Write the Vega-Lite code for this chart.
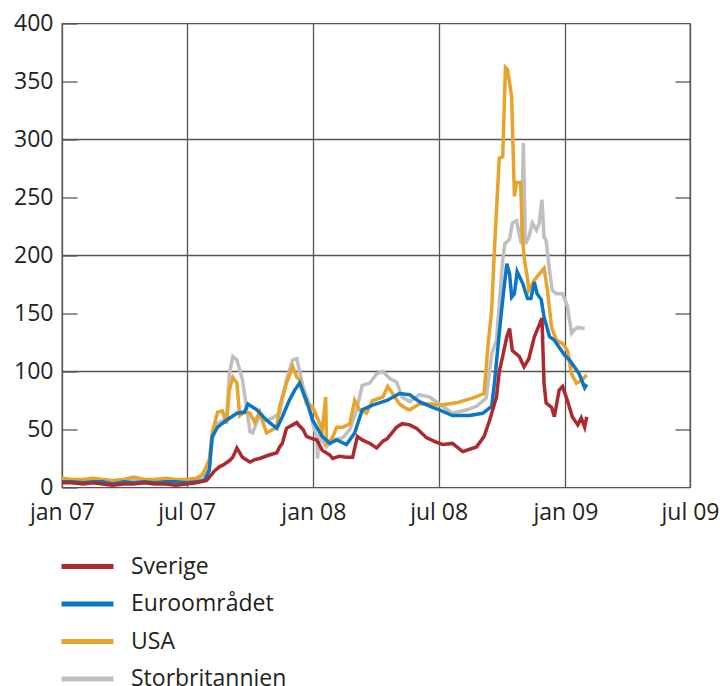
{
  "$schema": "https://vega.github.io/schema/vega-lite/v6.json",
  "width": 628,
  "height": 464,
  "autosize": {"type": "none"},
  "padding": {"left": 62, "top": 23.5, "right": 33, "bottom": 198.5},
  "background": "white",
  "config": {
    "view": {"stroke": "#555555", "strokeWidth": 1.3},
    "font": "Open Sans",
    "axis": {"labelFont": "Open Sans", "labelFontSize": 23, "labelColor": "#231f20", "title": null},
    "legend": {"labelFont": "Open Sans", "labelFontSize": 23, "labelColor": "#231f20"}
  },
  "resolve": {"axis": {"y": "independent"}},
  "layer": [
    {
      "data": {"values": [{"gy": 100}, {"gy": 200}, {"gy": 300}]},
      "mark": {"type": "rule", "color": "#555555", "strokeWidth": 1.3},
      "encoding": {
        "y": {
          "field": "gy", "type": "quantitative",
          "scale": {"domain": [0, 400], "nice": false},
          "axis": {"orient": "right", "values": [50, 150, 250, 350], "labels": false, "domain": false, "grid": false, "ticks": true, "tickSize": -15, "tickColor": "#555555", "tickWidth": 1.3, "title": null}
        }
      }
    },
    {
      "data": {"values": [
        {"d":"2007/01/01","s":"Storbritannien","v":6},{"d":"2007/01/15","s":"Storbritannien","v":6},{"d":"2007/02/01","s":"Storbritannien","v":5},{"d":"2007/02/15","s":"Storbritannien","v":6},{"d":"2007/03/01","s":"Storbritannien","v":6},{"d":"2007/03/15","s":"Storbritannien","v":5},{"d":"2007/04/01","s":"Storbritannien","v":6},{"d":"2007/04/15","s":"Storbritannien","v":6},{"d":"2007/05/01","s":"Storbritannien","v":5},{"d":"2007/05/15","s":"Storbritannien","v":6},{"d":"2007/06/01","s":"Storbritannien","v":6},{"d":"2007/06/15","s":"Storbritannien","v":5},{"d":"2007/07/01","s":"Storbritannien","v":6},{"d":"2007/07/15","s":"Storbritannien","v":6},{"d":"2007/07/27","s":"Storbritannien","v":8},{"d":"2007/08/03","s":"Storbritannien","v":20},{"d":"2007/08/07","s":"Storbritannien","v":40},{"d":"2007/08/15","s":"Storbritannien","v":55},{"d":"2007/08/28","s":"Storbritannien","v":60},{"d":"2007/09/01","s":"Storbritannien","v":98},{"d":"2007/09/06","s":"Storbritannien","v":113},{"d":"2007/09/12","s":"Storbritannien","v":110},{"d":"2007/09/20","s":"Storbritannien","v":93},{"d":"2007/09/28","s":"Storbritannien","v":61},{"d":"2007/10/01","s":"Storbritannien","v":48},{"d":"2007/10/05","s":"Storbritannien","v":47},{"d":"2007/10/08","s":"Storbritannien","v":52},{"d":"2007/10/15","s":"Storbritannien","v":62},{"d":"2007/10/25","s":"Storbritannien","v":58},{"d":"2007/11/03","s":"Storbritannien","v":60},{"d":"2007/11/13","s":"Storbritannien","v":64},{"d":"2007/11/23","s":"Storbritannien","v":93},{"d":"2007/12/02","s":"Storbritannien","v":110},{"d":"2007/12/08","s":"Storbritannien","v":111},{"d":"2007/12/17","s":"Storbritannien","v":87},{"d":"2007/12/27","s":"Storbritannien","v":70},{"d":"2007/12/31","s":"Storbritannien","v":55},{"d":"2008/01/06","s":"Storbritannien","v":44},{"d":"2008/01/07","s":"Storbritannien","v":25},{"d":"2008/01/10","s":"Storbritannien","v":44},{"d":"2008/01/20","s":"Storbritannien","v":35},{"d":"2008/01/29","s":"Storbritannien","v":41},{"d":"2008/02/13","s":"Storbritannien","v":43},{"d":"2008/02/23","s":"Storbritannien","v":50},{"d":"2008/03/04","s":"Storbritannien","v":67},{"d":"2008/03/12","s":"Storbritannien","v":88},{"d":"2008/03/23","s":"Storbritannien","v":90},{"d":"2008/04/02","s":"Storbritannien","v":98},{"d":"2008/04/11","s":"Storbritannien","v":100},{"d":"2008/04/21","s":"Storbritannien","v":94},{"d":"2008/05/01","s":"Storbritannien","v":91},{"d":"2008/05/09","s":"Storbritannien","v":78},{"d":"2008/05/20","s":"Storbritannien","v":74},{"d":"2008/06/03","s":"Storbritannien","v":80},{"d":"2008/06/18","s":"Storbritannien","v":78},{"d":"2008/07/02","s":"Storbritannien","v":72},{"d":"2008/07/21","s":"Storbritannien","v":64},{"d":"2008/08/11","s":"Storbritannien","v":67},{"d":"2008/08/25","s":"Storbritannien","v":70},{"d":"2008/09/08","s":"Storbritannien","v":77},{"d":"2008/09/16","s":"Storbritannien","v":115},{"d":"2008/09/23","s":"Storbritannien","v":127},{"d":"2008/10/02","s":"Storbritannien","v":196},{"d":"2008/10/05","s":"Storbritannien","v":210},{"d":"2008/10/12","s":"Storbritannien","v":214},{"d":"2008/10/16","s":"Storbritannien","v":228},{"d":"2008/10/22","s":"Storbritannien","v":230},{"d":"2008/10/29","s":"Storbritannien","v":210},{"d":"2008/11/01","s":"Storbritannien","v":297},{"d":"2008/11/04","s":"Storbritannien","v":210},{"d":"2008/11/09","s":"Storbritannien","v":216},{"d":"2008/11/14","s":"Storbritannien","v":228},{"d":"2008/11/20","s":"Storbritannien","v":222},{"d":"2008/11/24","s":"Storbritannien","v":228},{"d":"2008/11/28","s":"Storbritannien","v":248},{"d":"2008/12/01","s":"Storbritannien","v":216},{"d":"2008/12/04","s":"Storbritannien","v":213},{"d":"2008/12/09","s":"Storbritannien","v":187},{"d":"2008/12/13","s":"Storbritannien","v":170},{"d":"2008/12/19","s":"Storbritannien","v":167},{"d":"2008/12/28","s":"Storbritannien","v":167},{"d":"2009/01/04","s":"Storbritannien","v":156},{"d":"2009/01/10","s":"Storbritannien","v":133},{"d":"2009/01/14","s":"Storbritannien","v":136},{"d":"2009/01/19","s":"Storbritannien","v":138},{"d":"2009/01/29","s":"Storbritannien","v":137},

        {"d":"2007/01/01","s":"USA","v":8},{"d":"2007/01/15","s":"USA","v":7},{"d":"2007/02/01","s":"USA","v":7},{"d":"2007/02/15","s":"USA","v":8},{"d":"2007/03/01","s":"USA","v":7},{"d":"2007/03/15","s":"USA","v":6},{"d":"2007/04/01","s":"USA","v":7},{"d":"2007/04/15","s":"USA","v":9},{"d":"2007/05/01","s":"USA","v":7},{"d":"2007/05/15","s":"USA","v":7},{"d":"2007/06/01","s":"USA","v":8},{"d":"2007/06/15","s":"USA","v":7},{"d":"2007/07/01","s":"USA","v":7},{"d":"2007/07/15","s":"USA","v":8},{"d":"2007/07/24","s":"USA","v":11},{"d":"2007/08/03","s":"USA","v":24},{"d":"2007/08/07","s":"USA","v":47},{"d":"2007/08/15","s":"USA","v":65},{"d":"2007/08/22","s":"USA","v":66},{"d":"2007/08/28","s":"USA","v":55},{"d":"2007/09/01","s":"USA","v":84},{"d":"2007/09/06","s":"USA","v":95},{"d":"2007/09/12","s":"USA","v":90},{"d":"2007/09/16","s":"USA","v":62},{"d":"2007/09/23","s":"USA","v":65},{"d":"2007/10/01","s":"USA","v":64},{"d":"2007/10/08","s":"USA","v":56},{"d":"2007/10/15","s":"USA","v":65},{"d":"2007/10/25","s":"USA","v":47},{"d":"2007/11/09","s":"USA","v":52},{"d":"2007/11/13","s":"USA","v":70},{"d":"2007/11/23","s":"USA","v":90},{"d":"2007/12/02","s":"USA","v":104},{"d":"2007/12/08","s":"USA","v":95},{"d":"2007/12/12","s":"USA","v":93},{"d":"2007/12/22","s":"USA","v":72},{"d":"2007/12/31","s":"USA","v":70},{"d":"2008/01/06","s":"USA","v":61},{"d":"2008/01/14","s":"USA","v":50},{"d":"2008/01/19","s":"USA","v":78},{"d":"2008/01/20","s":"USA","v":38},{"d":"2008/01/28","s":"USA","v":42},{"d":"2008/02/04","s":"USA","v":52},{"d":"2008/02/13","s":"USA","v":52},{"d":"2008/02/23","s":"USA","v":55},{"d":"2008/03/01","s":"USA","v":75},{"d":"2008/03/08","s":"USA","v":67},{"d":"2008/03/18","s":"USA","v":64},{"d":"2008/03/27","s":"USA","v":75},{"d":"2008/04/11","s":"USA","v":78},{"d":"2008/04/18","s":"USA","v":87},{"d":"2008/04/25","s":"USA","v":81},{"d":"2008/05/05","s":"USA","v":72},{"d":"2008/05/15","s":"USA","v":68},{"d":"2008/05/20","s":"USA","v":67},{"d":"2008/06/03","s":"USA","v":72},{"d":"2008/06/22","s":"USA","v":72},{"d":"2008/07/02","s":"USA","v":71},{"d":"2008/07/27","s":"USA","v":73},{"d":"2008/08/19","s":"USA","v":77},{"d":"2008/09/05","s":"USA","v":81},{"d":"2008/09/10","s":"USA","v":118},{"d":"2008/09/16","s":"USA","v":153},{"d":"2008/09/20","s":"USA","v":205},{"d":"2008/09/27","s":"USA","v":284},{"d":"2008/10/02","s":"USA","v":285},{"d":"2008/10/06","s":"USA","v":362},{"d":"2008/10/09","s":"USA","v":360},{"d":"2008/10/15","s":"USA","v":337},{"d":"2008/10/19","s":"USA","v":251},{"d":"2008/10/22","s":"USA","v":263},{"d":"2008/10/28","s":"USA","v":263},{"d":"2008/10/31","s":"USA","v":213},{"d":"2008/11/02","s":"USA","v":199},{"d":"2008/11/07","s":"USA","v":180},{"d":"2008/11/09","s":"USA","v":170},{"d":"2008/11/17","s":"USA","v":179},{"d":"2008/11/24","s":"USA","v":184},{"d":"2008/12/01","s":"USA","v":189},{"d":"2008/12/06","s":"USA","v":170},{"d":"2008/12/12","s":"USA","v":138},{"d":"2008/12/19","s":"USA","v":127},{"d":"2008/12/28","s":"USA","v":124},{"d":"2009/01/04","s":"USA","v":118},{"d":"2009/01/10","s":"USA","v":98},{"d":"2009/01/17","s":"USA","v":90},{"d":"2009/01/24","s":"USA","v":92},{"d":"2009/02/01","s":"USA","v":97},

        {"d":"2007/01/01","s":"Euroområdet","v":5},{"d":"2007/01/15","s":"Euroområdet","v":5},{"d":"2007/02/01","s":"Euroområdet","v":4},{"d":"2007/02/15","s":"Euroområdet","v":5},{"d":"2007/03/01","s":"Euroområdet","v":5},{"d":"2007/03/15","s":"Euroområdet","v":3},{"d":"2007/04/01","s":"Euroområdet","v":5},{"d":"2007/04/15","s":"Euroområdet","v":4},{"d":"2007/05/01","s":"Euroområdet","v":5},{"d":"2007/05/15","s":"Euroområdet","v":4},{"d":"2007/06/01","s":"Euroområdet","v":5},{"d":"2007/06/15","s":"Euroområdet","v":5},{"d":"2007/07/01","s":"Euroområdet","v":4},{"d":"2007/07/15","s":"Euroområdet","v":5},{"d":"2007/07/27","s":"Euroområdet","v":6},{"d":"2007/08/03","s":"Euroområdet","v":15},{"d":"2007/08/07","s":"Euroområdet","v":44},{"d":"2007/08/15","s":"Euroområdet","v":52},{"d":"2007/08/28","s":"Euroområdet","v":58},{"d":"2007/09/12","s":"Euroområdet","v":64},{"d":"2007/09/23","s":"Euroområdet","v":65},{"d":"2007/09/28","s":"Euroområdet","v":72},{"d":"2007/10/11","s":"Euroområdet","v":67},{"d":"2007/10/25","s":"Euroområdet","v":58},{"d":"2007/11/09","s":"Euroområdet","v":51},{"d":"2007/11/17","s":"Euroområdet","v":61},{"d":"2007/11/27","s":"Euroområdet","v":75},{"d":"2007/12/05","s":"Euroområdet","v":84},{"d":"2007/12/12","s":"Euroområdet","v":90},{"d":"2007/12/22","s":"Euroområdet","v":75},{"d":"2007/12/31","s":"Euroområdet","v":58},{"d":"2008/01/14","s":"Euroområdet","v":44},{"d":"2008/01/25","s":"Euroområdet","v":38},{"d":"2008/02/04","s":"Euroområdet","v":41},{"d":"2008/02/18","s":"Euroområdet","v":37},{"d":"2008/03/01","s":"Euroområdet","v":47},{"d":"2008/03/12","s":"Euroområdet","v":67},{"d":"2008/03/27","s":"Euroområdet","v":71},{"d":"2008/04/17","s":"Euroområdet","v":75},{"d":"2008/05/05","s":"Euroområdet","v":81},{"d":"2008/05/20","s":"Euroområdet","v":80},{"d":"2008/06/03","s":"Euroområdet","v":74},{"d":"2008/06/22","s":"Euroområdet","v":69},{"d":"2008/07/02","s":"Euroområdet","v":67},{"d":"2008/07/21","s":"Euroområdet","v":62},{"d":"2008/08/15","s":"Euroområdet","v":62},{"d":"2008/09/03","s":"Euroområdet","v":64},{"d":"2008/09/16","s":"Euroområdet","v":70},{"d":"2008/09/20","s":"Euroområdet","v":90},{"d":"2008/09/27","s":"Euroområdet","v":133},{"d":"2008/10/02","s":"Euroområdet","v":162},{"d":"2008/10/08","s":"Euroområdet","v":193},{"d":"2008/10/12","s":"Euroområdet","v":184},{"d":"2008/10/15","s":"Euroområdet","v":164},{"d":"2008/10/19","s":"Euroområdet","v":167},{"d":"2008/10/23","s":"Euroområdet","v":186},{"d":"2008/10/31","s":"Euroområdet","v":176},{"d":"2008/11/07","s":"Euroområdet","v":163},{"d":"2008/11/12","s":"Euroområdet","v":163},{"d":"2008/11/17","s":"Euroområdet","v":177},{"d":"2008/11/21","s":"Euroområdet","v":167},{"d":"2008/11/27","s":"Euroområdet","v":162},{"d":"2008/12/01","s":"Euroområdet","v":147},{"d":"2008/12/09","s":"Euroområdet","v":130},{"d":"2008/12/16","s":"Euroområdet","v":127},{"d":"2008/12/23","s":"Euroområdet","v":121},{"d":"2008/12/31","s":"Euroområdet","v":114},{"d":"2009/01/07","s":"Euroområdet","v":110},{"d":"2009/01/14","s":"Euroområdet","v":104},{"d":"2009/01/21","s":"Euroområdet","v":98},{"d":"2009/01/29","s":"Euroområdet","v":86},{"d":"2009/02/01","s":"Euroområdet","v":89},

        {"d":"2007/01/01","s":"Sverige","v":4},{"d":"2007/01/15","s":"Sverige","v":4},{"d":"2007/02/01","s":"Sverige","v":3},{"d":"2007/02/15","s":"Sverige","v":4},{"d":"2007/03/01","s":"Sverige","v":3},{"d":"2007/03/15","s":"Sverige","v":2},{"d":"2007/04/01","s":"Sverige","v":3},{"d":"2007/04/15","s":"Sverige","v":3},{"d":"2007/05/01","s":"Sverige","v":4},{"d":"2007/05/15","s":"Sverige","v":3},{"d":"2007/06/01","s":"Sverige","v":3},{"d":"2007/06/15","s":"Sverige","v":2},{"d":"2007/07/01","s":"Sverige","v":3},{"d":"2007/07/15","s":"Sverige","v":4},{"d":"2007/07/30","s":"Sverige","v":6},{"d":"2007/08/03","s":"Sverige","v":9},{"d":"2007/08/10","s":"Sverige","v":14},{"d":"2007/08/18","s":"Sverige","v":18},{"d":"2007/08/22","s":"Sverige","v":19},{"d":"2007/09/01","s":"Sverige","v":23},{"d":"2007/09/06","s":"Sverige","v":26},{"d":"2007/09/12","s":"Sverige","v":34},{"d":"2007/09/16","s":"Sverige","v":30},{"d":"2007/09/20","s":"Sverige","v":26},{"d":"2007/10/01","s":"Sverige","v":22},{"d":"2007/10/08","s":"Sverige","v":24},{"d":"2007/10/15","s":"Sverige","v":25},{"d":"2007/10/29","s":"Sverige","v":28},{"d":"2007/11/09","s":"Sverige","v":30},{"d":"2007/11/13","s":"Sverige","v":35},{"d":"2007/11/17","s":"Sverige","v":38},{"d":"2007/11/23","s":"Sverige","v":51},{"d":"2007/12/02","s":"Sverige","v":54},{"d":"2007/12/08","s":"Sverige","v":56},{"d":"2007/12/12","s":"Sverige","v":53},{"d":"2007/12/17","s":"Sverige","v":50},{"d":"2007/12/22","s":"Sverige","v":44},{"d":"2007/12/31","s":"Sverige","v":42},{"d":"2008/01/06","s":"Sverige","v":41},{"d":"2008/01/14","s":"Sverige","v":32},{"d":"2008/01/25","s":"Sverige","v":28},{"d":"2008/01/29","s":"Sverige","v":25},{"d":"2008/02/08","s":"Sverige","v":27},{"d":"2008/02/18","s":"Sverige","v":26},{"d":"2008/02/27","s":"Sverige","v":26},{"d":"2008/03/05","s":"Sverige","v":44},{"d":"2008/03/12","s":"Sverige","v":41},{"d":"2008/03/23","s":"Sverige","v":38},{"d":"2008/04/02","s":"Sverige","v":34},{"d":"2008/04/11","s":"Sverige","v":40},{"d":"2008/04/17","s":"Sverige","v":42},{"d":"2008/05/01","s":"Sverige","v":52},{"d":"2008/05/09","s":"Sverige","v":55},{"d":"2008/05/20","s":"Sverige","v":54},{"d":"2008/05/30","s":"Sverige","v":51},{"d":"2008/06/08","s":"Sverige","v":46},{"d":"2008/06/13","s":"Sverige","v":43},{"d":"2008/06/28","s":"Sverige","v":39},{"d":"2008/07/07","s":"Sverige","v":37},{"d":"2008/07/21","s":"Sverige","v":38},{"d":"2008/08/05","s":"Sverige","v":31},{"d":"2008/08/15","s":"Sverige","v":33},{"d":"2008/08/25","s":"Sverige","v":35},{"d":"2008/09/05","s":"Sverige","v":44},{"d":"2008/09/13","s":"Sverige","v":58},{"d":"2008/09/23","s":"Sverige","v":78},{"d":"2008/09/27","s":"Sverige","v":100},{"d":"2008/10/02","s":"Sverige","v":113},{"d":"2008/10/08","s":"Sverige","v":130},{"d":"2008/10/12","s":"Sverige","v":137},{"d":"2008/10/16","s":"Sverige","v":118},{"d":"2008/10/26","s":"Sverige","v":113},{"d":"2008/11/02","s":"Sverige","v":104},{"d":"2008/11/09","s":"Sverige","v":111},{"d":"2008/11/17","s":"Sverige","v":130},{"d":"2008/11/24","s":"Sverige","v":140},{"d":"2008/11/28","s":"Sverige","v":146},{"d":"2008/12/01","s":"Sverige","v":90},{"d":"2008/12/04","s":"Sverige","v":73},{"d":"2008/12/12","s":"Sverige","v":69},{"d":"2008/12/16","s":"Sverige","v":61},{"d":"2008/12/23","s":"Sverige","v":84},{"d":"2008/12/28","s":"Sverige","v":87},{"d":"2009/01/04","s":"Sverige","v":75},{"d":"2009/01/11","s":"Sverige","v":61},{"d":"2009/01/19","s":"Sverige","v":54},{"d":"2009/01/24","s":"Sverige","v":60},{"d":"2009/01/29","s":"Sverige","v":52},{"d":"2009/02/01","s":"Sverige","v":61}
      ]},
      "mark": {"type": "line", "strokeWidth": 3.5, "interpolate": "linear"},
      "encoding": {
        "x": {
          "field": "d", "type": "temporal",
          "scale": {"domain": [{"year": 2007, "month": 1, "date": 1}, {"year": 2009, "month": 7, "date": 1}], "nice": false},
          "axis": {
            "values": [{"year": 2007, "month": 1, "date": 1}, {"year": 2007, "month": 7, "date": 1}, {"year": 2008, "month": 1, "date": 1}, {"year": 2008, "month": 7, "date": 1}, {"year": 2009, "month": 1, "date": 1}, {"year": 2009, "month": 7, "date": 1}],
            "labelExpr": "(month(datum.value) == 0 ? 'jan ' : 'jul ') + timeFormat(datum.value, '%y')",
            "grid": true, "gridColor": "#555555", "gridWidth": 1.3, "gridOpacity": 1,
            "ticks": false, "domain": false, "labelPadding": 14, "labelFlush": false, "labelOverlap": false, "title": null
          }
        },
        "y": {
          "field": "v", "type": "quantitative",
          "scale": {"domain": [0, 400], "nice": false},
          "axis": {"orient": "left", "values": [0, 50, 100, 150, 200, 250, 300, 350, 400], "grid": false, "domain": false, "ticks": true, "tickSize": -15, "tickColor": "#555555", "tickWidth": 1.3, "labelPadding": 24, "title": null}
        },
        "color": {
          "field": "s", "type": "nominal",
          "scale": {"domain": ["Sverige", "Euroområdet", "USA", "Storbritannien"], "range": ["#ac2a2f", "#0b76c1", "#e9a22a", "#bfbfbf"]},
          "legend": {"orient": "none", "legendX": -3, "legendY": 533, "direction": "vertical", "title": null, "symbolType": "stroke", "symbolStrokeWidth": 5, "symbolSize": 2700, "clipHeight": 20, "rowPadding": 14.5, "labelOffset": 15, "padding": 0}
        }
      }
    }
  ]
}
